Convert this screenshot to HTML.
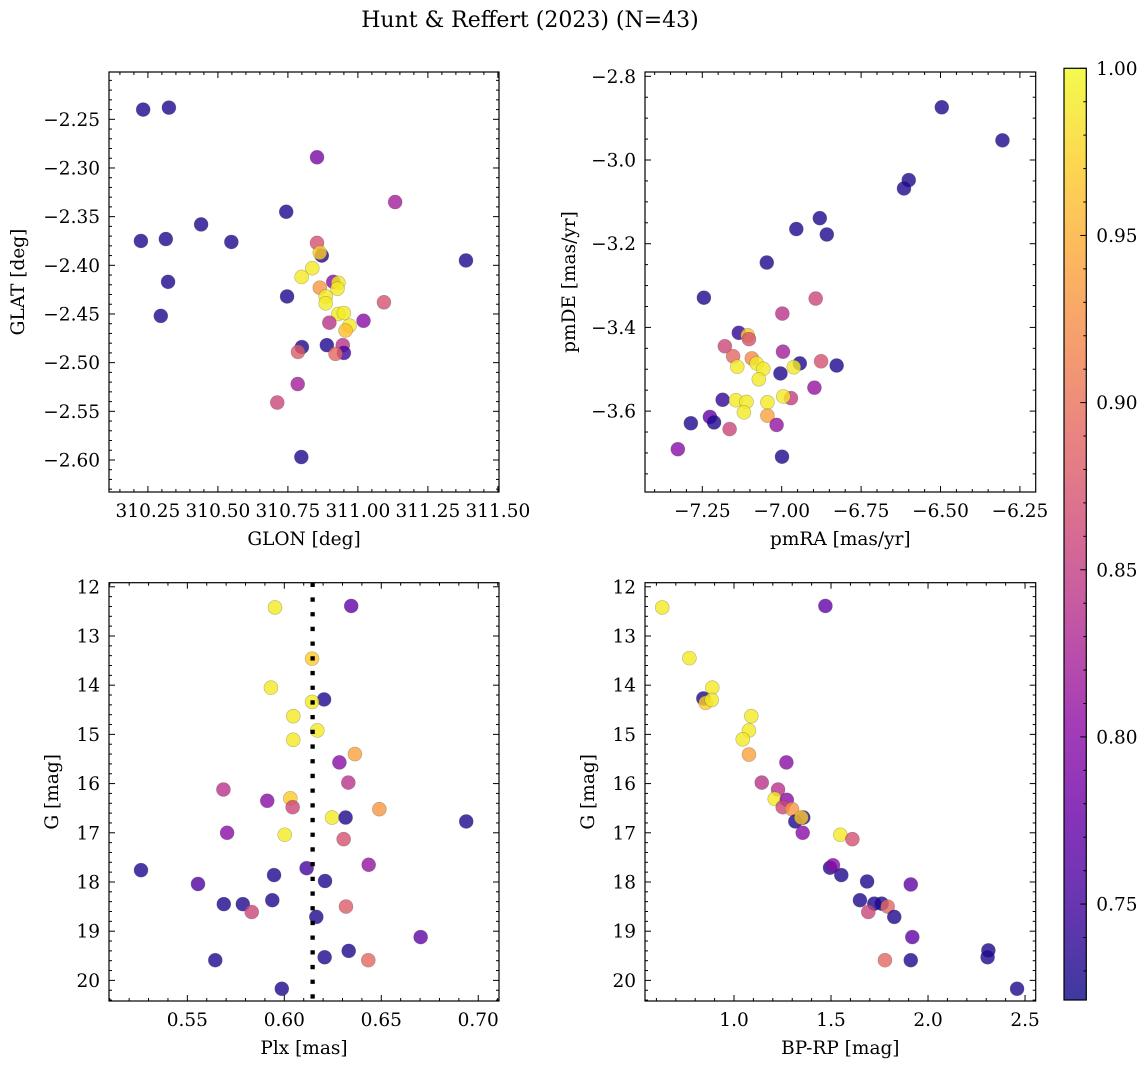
<!DOCTYPE html>
<html><head><meta charset="utf-8">
<style>
html,body{margin:0;padding:0;background:#fff;}
svg{display:block;font-family:"DejaVu Serif","Liberation Serif",serif;}
</style></head>
<body>
<svg id="fig" width="1148" height="1068" viewBox="0 0 1148 1068" xmlns="http://www.w3.org/2000/svg">
<rect width="1148" height="1068" fill="#fff"/>
<text x="530" y="27" font-size="22" text-anchor="middle">Hunt &amp; Reffert (2023) (N=43)</text>
<defs>
<linearGradient id="plasma" x1="0" y1="1" x2="0" y2="0"></linearGradient>
</defs>
</svg>
<script>
// ---- Panel 1: GLON vs GLAT ----
const glon = [310.233,310.325,310.854,311.133,310.744,310.440,310.225,310.314,310.548,311.386,310.854,310.871,310.864,310.837,310.799,310.322,310.912,310.93,310.864,310.927,310.885,310.885,310.747,311.093,310.296,310.93,310.95,311.02,310.898,310.97,310.956,310.889,310.946,310.80,310.786,310.95,310.92,310.785,310.712,310.798];
const glat = [-2.240,-2.238,-2.289,-2.335,-2.345,-2.358,-2.375,-2.373,-2.376,-2.395,-2.377,-2.390,-2.387,-2.403,-2.412,-2.417,-2.417,-2.418,-2.423,-2.424,-2.432,-2.439,-2.432,-2.438,-2.452,-2.450,-2.449,-2.457,-2.459,-2.462,-2.467,-2.482,-2.482,-2.484,-2.489,-2.490,-2.491,-2.522,-2.541,-2.597];
const prob1 = [0.73,0.73,0.79,0.82,0.73,0.73,0.73,0.73,0.73,0.73,0.87,0.73,0.97,0.99,0.99,0.73,0.80,0.99,0.93,0.99,0.99,0.99,0.73,0.87,0.73,0.99,0.99,0.80,0.84,0.99,0.96,0.73,0.84,0.73,0.88,0.75,0.89,0.82,0.86,0.73];
// ---- Panel 2: pmRA vs pmDE ----
const pmra = [-6.496,-6.305,-6.600,-6.615,-6.880,-6.954,-6.858,-7.047,-7.245,-6.893,-6.998,-7.135,-7.107,-7.103,-7.179,-6.996,-7.153,-7.094,-7.079,-6.943,-6.876,-6.827,-7.140,-7.058,-6.962,-7.004,-7.072,-6.897,-7.186,-6.971,-6.995,-7.144,-7.111,-7.045,-7.119,-7.045,-7.226,-7.213,-7.286,-7.164,-7.016,-7.327,-6.999];
const pmde = [-2.874,-2.953,-3.048,-3.068,-3.139,-3.165,-3.178,-3.245,-3.329,-3.331,-3.367,-3.413,-3.419,-3.428,-3.445,-3.458,-3.469,-3.474,-3.486,-3.486,-3.481,-3.491,-3.494,-3.499,-3.495,-3.510,-3.524,-3.544,-3.573,-3.569,-3.565,-3.574,-3.578,-3.579,-3.603,-3.611,-3.614,-3.627,-3.629,-3.643,-3.633,-3.691,-3.709];
const prob2 = [0.73,0.73,0.73,0.73,0.73,0.73,0.73,0.73,0.73,0.86,0.84,0.74,0.97,0.87,0.86,0.82,0.89,0.92,0.99,0.73,0.87,0.73,0.99,0.99,0.99,0.73,0.99,0.81,0.74,0.85,0.99,0.99,0.99,0.99,0.99,0.94,0.77,0.73,0.73,0.86,0.81,0.80,0.73];
// ---- Panel 3: Plx vs G ----
const plx = [0.5952,0.6345,0.6143,0.5931,0.6205,0.6143,0.6046,0.617,0.6046,0.6364,0.6284,0.633,0.5686,0.5912,0.6031,0.6043,0.649,0.6246,0.6316,0.6938,0.5705,0.6002,0.6306,0.5261,0.6115,0.6435,0.5947,0.621,0.5555,0.5688,0.5786,0.5938,0.5832,0.6318,0.6165,0.6703,0.6332,0.6208,0.5644,0.6433,0.5987];
const gmag3 = [12.42,12.39,13.46,14.05,14.29,14.34,14.63,14.92,15.11,15.40,15.57,15.98,16.12,16.35,16.30,16.48,16.52,16.69,16.69,16.77,17.00,17.04,17.13,17.76,17.72,17.65,17.86,17.98,18.04,18.45,18.45,18.37,18.61,18.50,18.71,19.12,19.40,19.53,19.59,19.59,20.17];
const prob3 = [0.99,0.77,0.97,0.99,0.73,0.99,0.99,0.99,0.99,0.94,0.80,0.84,0.84,0.80,0.97,0.86,0.93,0.99,0.73,0.73,0.80,0.99,0.87,0.73,0.75,0.81,0.73,0.73,0.76,0.73,0.73,0.73,0.86,0.88,0.73,0.77,0.73,0.73,0.73,0.89,0.73];
const plxMean = [0.6146];
// ---- Panel 4: BP-RP vs G ----
const bprp = [0.630,1.471,0.770,0.888,0.842,0.854,0.885,1.089,1.077,1.045,1.077,1.270,1.143,1.227,1.210,1.272,1.251,1.299,1.316,1.357,1.347,1.354,1.548,1.610,1.495,1.510,1.553,1.686,1.911,1.649,1.723,1.761,1.692,1.792,1.826,1.919,2.311,2.307,1.778,1.911,2.459];
const gmag4 = [12.42,12.39,13.45,14.05,14.27,14.36,14.30,14.63,14.92,15.10,15.41,15.57,15.98,16.12,16.31,16.33,16.48,16.52,16.77,16.69,16.69,17.00,17.04,17.13,17.71,17.66,17.86,17.99,18.05,18.37,18.44,18.44,18.61,18.50,18.71,19.12,19.39,19.53,19.59,19.59,20.17];
const prob4 = [0.99,0.77,0.99,0.99,0.73,0.97,0.99,0.99,0.99,0.99,0.94,0.80,0.84,0.84,0.99,0.80,0.86,0.93,0.73,0.73,0.97,0.80,0.99,0.87,0.73,0.80,0.73,0.73,0.77,0.73,0.73,0.73,0.86,0.89,0.73,0.77,0.73,0.73,0.89,0.73,0.73];
// ---- Colorbar ----
const cbTicks = [0.75,0.80,0.85,0.90,0.95,1.00];
const cbRange = [0.7213,1.0];

const NS = "http://www.w3.org/2000/svg";
const svg = document.getElementById('fig');
const FS = 18.5;
const plasmaStops = [[13,8,135],[65,4,157],[106,0,168],[143,13,164],[177,42,144],[204,71,120],[225,100,98],[242,132,75],[252,166,54],[252,206,37],[240,249,33]];
function plasma(t){t=Math.max(0,Math.min(1,t));const f=t*10;const i=Math.min(9,Math.floor(f));const u=f-i;const a=plasmaStops[i],b=plasmaStops[i+1];
 return 'rgb('+[0,1,2].map(k=>Math.round(a[k]+(b[k]-a[k])*u)).join(',')+')';}
function cmap(v){return plasma((v-cbRange[0])/(cbRange[1]-cbRange[0]));}
function mk(tag,attrs,parent){const e=document.createElementNS(NS,tag);for(const k in attrs)e.setAttribute(k,attrs[k]);(parent||svg).appendChild(e);return e;}
function fmt(v,d){return (v<0?'\u2212':'')+Math.abs(v).toFixed(d);}

function panel(o){
  const g=mk('g',{});
  
  
  const [L,T,R,B]=o.box;
  const sx=v=>L+(v-o.x[0])/(o.x[1]-o.x[0])*(R-L);
  const sy=v=>B-(v-o.y[0])/(o.y[1]-o.y[0])*(B-T);
  const pg=mk('g',{},g);
  
  
  for(let i=0;i<o.xs.length;i++){
    const c=mk('circle',{cx:sx(o.xs[i]),cy:sy(o.ys[i]),r:7,fill:cmap(o.c[i]),'fill-opacity':0.8,stroke:'rgba(60,60,60,0.35)','stroke-width':0.6},pg);
    
    
  }
  if(o.vline!==undefined){
    const l=mk('line',{x1:sx(o.vline),x2:sx(o.vline),y1:T,y2:B,stroke:'#000','stroke-width':4.3,'stroke-dasharray':'4.3 10.4'},g);
    
    
  }
  const fr=mk('rect',{x:L,y:T,width:R-L,height:B-T,fill:'none',stroke:'#000','stroke-width':1.2},g);
  
  
  const tg=mk('g',{stroke:'#000','stroke-width':1},g);
  const eps=1e-9;
  const x0=Math.min(o.x[0],o.x[1]), x1=Math.max(o.x[0],o.x[1]);
  const y0=Math.min(o.y[0],o.y[1]), y1=Math.max(o.y[0],o.y[1]);
  for(let k=Math.ceil(x0/o.xminor-eps); k*o.xminor<=x1+eps; k++){
    const v=k*o.xminor;
    const major=Math.abs(v/o.xmajor-Math.round(v/o.xmajor))<1e-6; const len=major?6:3; const x=sx(v);
    mk('line',{x1:x,x2:x,y1:B,y2:B-len},tg); mk('line',{x1:x,x2:x,y1:T,y2:T+len},tg);
    if(major){const t=mk('text',{x:x,y:B+25,'font-size':FS,'text-anchor':'middle',stroke:'none'},g);t.textContent=fmt(v,o.xd);
       }
  }
  for(let k=Math.ceil(y0/o.yminor-eps); k*o.yminor<=y1+eps; k++){
    const v=k*o.yminor;
    const major=Math.abs(v/o.ymajor-Math.round(v/o.ymajor))<1e-6; const len=major?6:3; const y=sy(v);
    mk('line',{x1:L,x2:L+len,y1:y,y2:y},tg); mk('line',{x1:R,x2:R-len,y1:y,y2:y},tg);
    if(major){const t=mk('text',{x:L-9,y:y+6.5,'font-size':FS,'text-anchor':'end',stroke:'none'},g);t.textContent=fmt(v,o.yd);
       }
  }
  const xl=mk('text',{x:(L+R)/2,y:B+53,'font-size':FS,'text-anchor':'middle'},g);xl.textContent=o.xlabel;
   
  const yl=mk('text',{x:0,y:0,'font-size':FS,'text-anchor':'middle',transform:'translate('+o.ylx+','+(T+B)/2+') rotate(-90)'},g);yl.textContent=o.ylabel;
   
}

panel({name:'glon-glat-panel',box:[109,72,499,492],x:[310.111,311.504],y:[-2.6329,-2.2014],xs:glon,ys:glat,c:prob1,
  xmajor:0.25,xminor:0.05,ymajor:0.05,yminor:0.01,xd:2,yd:2,xlabel:'GLON [deg]',ylabel:'GLAT [deg]',ylx:24});
panel({name:'pm-panel',box:[645,72,1035.7,492],x:[-7.4304,-6.2003],y:[-3.7933,-2.7897],xs:pmra,ys:pmde,c:prob2,
  xmajor:0.25,xminor:0.05,ymajor:0.2,yminor:0.05,xd:2,yd:1,xlabel:'pmRA [mas/yr]',ylabel:'pmDE [mas/yr]',ylx:575});
panel({name:'plx-g-panel',box:[109,582.7,499,1001],x:[0.5096,0.7107],y:[20.419,11.917],xs:plx,ys:gmag3,c:prob3,vline:plxMean[0],
  xmajor:0.05,xminor:0.01,ymajor:1,yminor:0.2,xd:2,yd:0,xlabel:'Plx [mas]',ylabel:'G [mag]',ylx:58});
panel({name:'cmd-panel',box:[645,582.7,1035.7,1001],x:[0.5412,2.555],y:[20.419,11.917],xs:bprp,ys:gmag4,c:prob4,
  xmajor:0.5,xminor:0.1,ymajor:1,yminor:0.2,xd:1,yd:0,xlabel:'BP-RP [mag]',ylabel:'G [mag]',ylx:594});

(function(){
  const L=1064,R=1086.3,T=68.3,B=1000;
  const grad=document.getElementById('plasma');
  for(let i=0;i<=20;i++){mk('stop',{offset:(i/20),'stop-color':plasma(i/20),'stop-opacity':0.8},grad);}
  const cg=mk('g',{});
  
  
  mk('rect',{x:L,y:T,width:R-L,height:B-T,fill:'url(#plasma)',stroke:'#000','stroke-width':1.2},cg);
  const sy=v=>B-(v-cbRange[0])/(cbRange[1]-cbRange[0])*(B-T);
  for(let k=73;k<=100;k++){const v=k/100;const y=sy(v);const major=(k%5===0);
    mk('line',{x1:R,x2:R-(major?6:3),y1:y,y2:y,stroke:'#000','stroke-width':1},cg);}
  cbTicks.forEach(v=>{const t=mk('text',{x:R+10,y:sy(v)+6.5,'font-size':FS},cg);t.textContent=v.toFixed(2);
     });
})();
</script>
</body></html>
